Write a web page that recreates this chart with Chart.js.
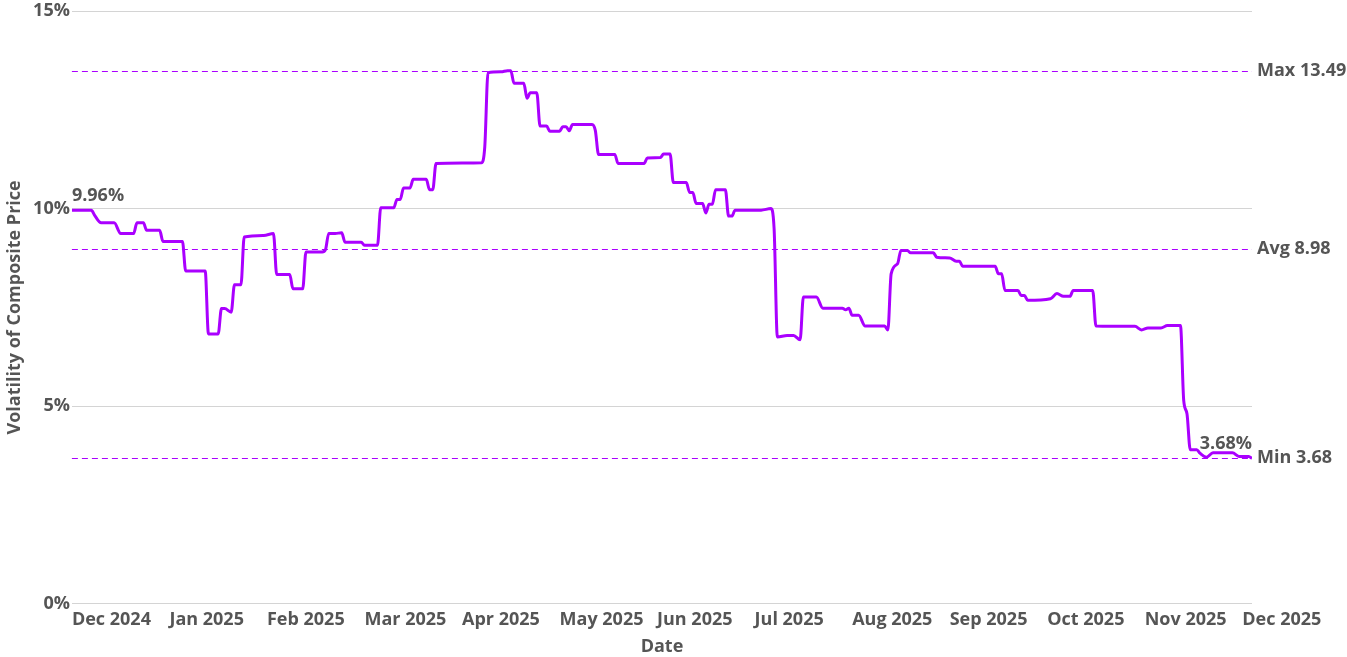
<!DOCTYPE html>
<html>
<head>
<meta charset="utf-8">
<title>Volatility of Composite Price</title>
<script src="https://cdn.jsdelivr.net/npm/chart.js@4.4.1/dist/chart.umd.min.js"></script>
<style>
  html, body { margin: 0; padding: 0; background: #fff; }
  #wrap { width: 1347px; height: 657px; }
</style>
</head>
<body>
<div id="wrap"><canvas id="volChart"></canvas></div>
<script>
// day index since start of the window, and the volatility (%) on that day
const days = [
  0, 6, 7, 9, 13, 15, 19, 20, 22, 23, 27, 28, 34, 35, 41, 42, 45, 46, 47, 49,
  50, 52, 53, 59, 62, 63, 67, 68, 71, 72, 77, 78, 79, 81, 83, 84, 89, 90, 94, 95,
  99, 100, 101, 102, 104, 105, 109, 110, 111, 112, 126, 127, 128, 132, 134, 135, 136, 139, 140, 141,
  143, 144, 146, 147, 150, 151, 152, 153, 154, 160, 161, 162, 167, 168, 176, 177, 181, 182, 184, 185,
  189, 190, 191, 192, 194, 195, 196, 197, 198, 201, 202, 203, 204, 212, 215, 216, 217, 220, 222, 224,
  225, 229, 231, 237, 238, 239, 240, 242, 244, 250, 251, 252, 254, 255, 257, 258, 265, 266, 270, 272,
  273, 274, 284, 285, 286, 287, 291, 292, 293, 294, 301, 303, 305, 307, 308, 314, 315, 327, 329, 331,
  335, 337, 341, 342, 343, 344, 346, 347, 349, 351, 357, 359, 362, 363
];
const volatility = [
  9.96, 9.96, 9.83, 9.64, 9.64, 9.37, 9.37, 9.64, 9.64, 9.45, 9.45, 9.17, 9.17, 8.42, 8.42, 6.83, 6.83, 7.47, 7.47, 7.38,
  8.07, 8.07, 9.28, 9.32, 9.37, 8.33, 8.33, 7.97, 7.97, 8.90, 8.90, 8.96, 9.37, 9.37, 9.39, 9.15, 9.15, 9.07, 9.07, 10.02,
  10.02, 10.23, 10.23, 10.52, 10.52, 10.74, 10.74, 10.48, 10.48, 11.14, 11.16, 11.56, 13.44, 13.46, 13.49, 13.49, 13.17, 13.17, 12.79, 12.93,
  12.93, 12.09, 12.09, 11.96, 11.96, 12.07, 12.07, 11.97, 12.13, 12.13, 11.98, 11.37, 11.37, 11.14, 11.14, 11.28, 11.29, 11.38, 11.38, 10.66,
  10.66, 10.41, 10.41, 10.13, 10.13, 9.89, 10.11, 10.11, 10.48, 10.48, 9.81, 9.81, 9.96, 9.96, 10.00, 9.49, 6.75, 6.79, 6.79, 6.68,
  7.76, 7.76, 7.48, 7.48, 7.44, 7.48, 7.30, 7.30, 7.03, 7.03, 6.93, 8.35, 8.61, 8.94, 8.94, 8.88, 8.88, 8.77, 8.75, 8.67,
  8.67, 8.54, 8.54, 8.35, 8.35, 7.93, 7.93, 7.80, 7.80, 7.68, 7.72, 7.85, 7.78, 7.78, 7.93, 7.93, 7.03, 7.02, 6.93, 6.98,
  6.98, 7.04, 7.04, 5.14, 4.81, 3.90, 3.90, 3.81, 3.71, 3.82, 3.82, 3.73, 3.73, 3.68
];

const tickLabels = ['Dec 2024', 'Jan 2025', 'Feb 2025', 'Mar 2025', 'Apr 2025', 'May 2025', 'Jun 2025',
  'Jul 2025', 'Aug 2025', 'Sep 2025', 'Oct 2025', 'Nov 2025', 'Dec 2025'];
const tickStep = 30;

const refNames = ['Max', 'Avg', 'Min'];
const refValues = [13.49, 8.98, 3.68];

const purple = '#aa00ff';
const textGray = '#555555';
const fontFamily = '"Open Sans", "Noto Sans", sans-serif';
const fontSize = 18;

const points = days.map((d, i) => ({ x: d, y: volatility[i] }));

// dashed reference lines (max / avg / min) with labels on the right
const refLinePlugin = {
  id: 'refLines',
  beforeDatasetsDraw(chart) {
    const { ctx, chartArea, scales } = chart;
    ctx.save();
    ctx.strokeStyle = purple;
    ctx.lineWidth = 1;
    ctx.setLineDash([6, 4]);
    refValues.forEach(v => {
      const y = Math.round(scales.y.getPixelForValue(v)) + 0.5;
      ctx.beginPath();
      ctx.moveTo(chartArea.left, y);
      ctx.lineTo(chartArea.right, y);
      ctx.stroke();
    });
    ctx.restore();
  },
  afterDatasetsDraw(chart) {
    const { ctx, chartArea, scales } = chart;
    ctx.save();
    ctx.font = 'bold ' + fontSize + 'px ' + fontFamily;
    ctx.fillStyle = textGray;
    ctx.textBaseline = 'middle';
    ctx.textAlign = 'left';
    refValues.forEach((v, i) => {
      ctx.fillText(refNames[i] + ' ' + v.toFixed(2), chartArea.right + 5, scales.y.getPixelForValue(v));
    });

    // first and last value labels
    const meta = chart.getDatasetMeta(0);
    const first = meta.data[0];
    const last = meta.data[meta.data.length - 1];
    ctx.textBaseline = 'bottom';
    ctx.textAlign = 'left';
    ctx.fillText(volatility[0].toFixed(2) + '%', first.x, first.y - 5);
    ctx.textAlign = 'right';
    ctx.fillText(volatility[volatility.length - 1].toFixed(2) + '%', last.x, last.y - 5);
    ctx.restore();
  }
};

const ctx = document.getElementById('volChart');

new Chart(ctx, {
  type: 'line',
  data: {
    datasets: [{
      label: 'Volatility',
      data: points,
      borderColor: purple,
      backgroundColor: purple,
      borderWidth: 3,
      pointRadius: 0,
      cubicInterpolationMode: 'monotone',
      borderJoinStyle: 'round',
      fill: false
    }]
  },
  options: {
    responsive: true,
    maintainAspectRatio: false,
    animation: false,
    layout: {
      padding: { top: 0, right: 95, bottom: 0, left: 0 }
    },
    plugins: {
      legend: { display: false },
      tooltip: { enabled: false }
    },
    scales: {
      x: {
        type: 'linear',
        min: 0,
        max: days[days.length - 1],
        grid: { display: false, drawTicks: false },
        border: { display: false },
        ticks: {
          stepSize: tickStep,
          includeBounds: false,
          autoSkip: false,
          maxRotation: 0,
          align: 'start',
          padding: 5,
          color: textGray,
          font: { family: fontFamily, size: fontSize, weight: 'bold' },
          callback: (v) => tickLabels[Math.round(v / tickStep)]
        },
        title: {
          display: true,
          text: 'Date',
          color: textGray,
          font: { family: fontFamily, size: fontSize, weight: 'bold' },
          padding: { top: 1, bottom: -1 }
        }
      },
      y: {
        min: 0,
        max: 15,
        grid: { color: '#d4d4d4', drawTicks: false },
        border: { display: false },
        ticks: {
          stepSize: 5,
          padding: 2,
          color: textGray,
          font: { family: fontFamily, size: fontSize, weight: 'bold', lineHeight: 1 },
          callback: (v) => v + '%'
        },
        title: {
          display: true,
          text: 'Volatility of Composite Price',
          color: textGray,
          font: { family: fontFamily, size: fontSize, weight: 'bold' },
          padding: { top: 4.5, bottom: 5 }
        }
      }
    }
  },
  plugins: [refLinePlugin]
});
</script>
</body>
</html>
